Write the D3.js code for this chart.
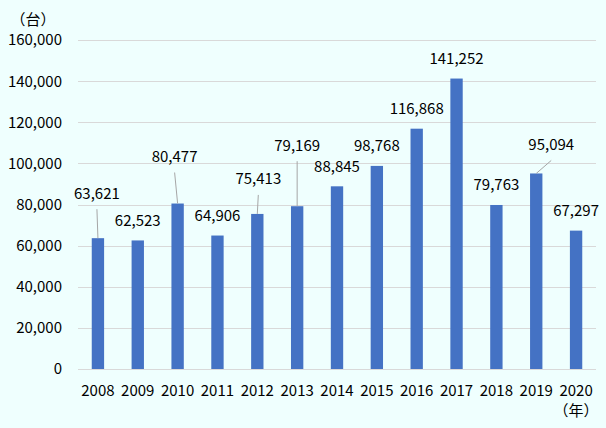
<!DOCTYPE html>
<html>
<head>
<meta charset="utf-8">
<script src="https://cdn.jsdelivr.net/npm/d3@7"></script>
<style>
  html, body { margin: 0; padding: 0; background: #effffe; }
  svg { display: block; font-family: 'Noto Sans CJK JP', 'Noto Sans', sans-serif; }
  .grid line { stroke: #d9d9d9; stroke-width: 1; }
  .axis-label { font-size: 15px; fill: #000; }
  .value-label { font-size: 15px; fill: #000; }
  .leader { stroke: #a6a6a6; stroke-width: 1; }
</style>
</head>
<body>
<svg id="chart" width="606" height="428"></svg>
<script>
const years = ['2008', '2009', '2010', '2011', '2012', '2013', '2014', '2015', '2016', '2017', '2018', '2019', '2020']
const units = [63621, 62523, 80477, 64906, 75413, 79169, 88845, 98768, 116868, 141252, 79763, 95094, 67297]
const yTicks = [0, 20000, 40000, 60000, 80000, 100000, 120000, 140000, 160000]

// labels that were dragged off the bar (with a leader line), in px from the default spot
const labelNudge = {
	'2008': { dx: -1, dy: -25 },
	'2010': { dx: -3, dy: -27 },
	'2012': { dx: 1, dy: -15 },
	'2013': { dx: 0, dy: -41 },
	'2019': { dx: 15, dy: -9 }
}

const svg = d3.select('#chart')
const width = 606
const height = 428
const margin = { left: 78, right: 10, top: 40, bottom: 59 }

svg.append('rect')
	.attr('width', width)
	.attr('height', height)
	.attr('fill', '#effffe')

const x = d3.scaleBand()
	.domain(years)
	.range([margin.left, width - margin.right])
	.paddingInner(0.69)
	.paddingOuter(0.345)

const y = d3.scaleLinear()
	.domain([0, 160000])
	.range([height - margin.bottom, margin.top])

const fmt = d3.format(',')

svg.append('g')
	.attr('class', 'grid')
	.selectAll('line')
	.data(yTicks)
	.enter()
	.append('line')
	.attr('x1', margin.left)
	.attr('x2', width - margin.right)
	.attr('y1', d => Math.round(y(d)) + 0.5)
	.attr('y2', d => Math.round(y(d)) + 0.5)

svg.append('g')
	.selectAll('text')
	.data(yTicks)
	.enter()
	.append('text')
	.attr('class', 'axis-label')
	.attr('x', 62)
	.attr('y', d => y(d))
	.attr('dy', '0.36em')
	.attr('text-anchor', 'end')
	.text(d => fmt(d))

svg.append('text')
	.attr('class', 'axis-label')
	.attr('x', 33)
	.attr('y', 20)
	.attr('dy', '0.36em')
	.attr('text-anchor', 'middle')
	.text('（台）')

svg.append('g')
	.selectAll('rect')
	.data(units)
	.enter()
	.append('rect')
	.attr('x', (d, i) => x(years[i]))
	.attr('y', d => y(d))
	.attr('width', x.bandwidth())
	.attr('height', d => y(0) - y(d))
	.attr('fill', '#4472c4')

svg.append('g')
	.selectAll('text')
	.data(years)
	.enter()
	.append('text')
	.attr('class', 'axis-label')
	.attr('x', d => x(d) + x.bandwidth() / 2)
	.attr('y', 391)
	.attr('dy', '0.36em')
	.attr('text-anchor', 'middle')
	.text(d => d)

svg.append('text')
	.attr('class', 'axis-label')
	.attr('x', x('2020') + x.bandwidth() / 2)
	.attr('y', 411)
	.attr('dy', '0.36em')
	.attr('text-anchor', 'middle')
	.text('（年）')

const labels = units.map((v, i) => {
	const nudge = labelNudge[years[i]] || { dx: 0, dy: 0 }
	const cx = x(years[i]) + x.bandwidth() / 2
	return {
		year: years[i],
		value: v,
		barX: cx,
		barY: y(v),
		lx: cx + nudge.dx,
		ly: y(v) - 20 + nudge.dy,
		nudged: !!labelNudge[years[i]]
	}
})

svg.append('g')
	.selectAll('line')
	.data(labels.filter(d => d.nudged))
	.enter()
	.append('line')
	.attr('class', 'leader')
	.attr('x1', d => d.lx)
	.attr('y1', d => d.ly + 16)
	.attr('x2', d => d.barX)
	.attr('y2', d => d.barY)

svg.append('g')
	.selectAll('text')
	.data(labels)
	.enter()
	.append('text')
	.attr('class', 'value-label')
	.attr('x', d => d.lx)
	.attr('y', d => d.ly)
	.attr('dy', '0.36em')
	.attr('text-anchor', 'middle')
	.text(d => fmt(d.value))
</script>
</body>
</html>
